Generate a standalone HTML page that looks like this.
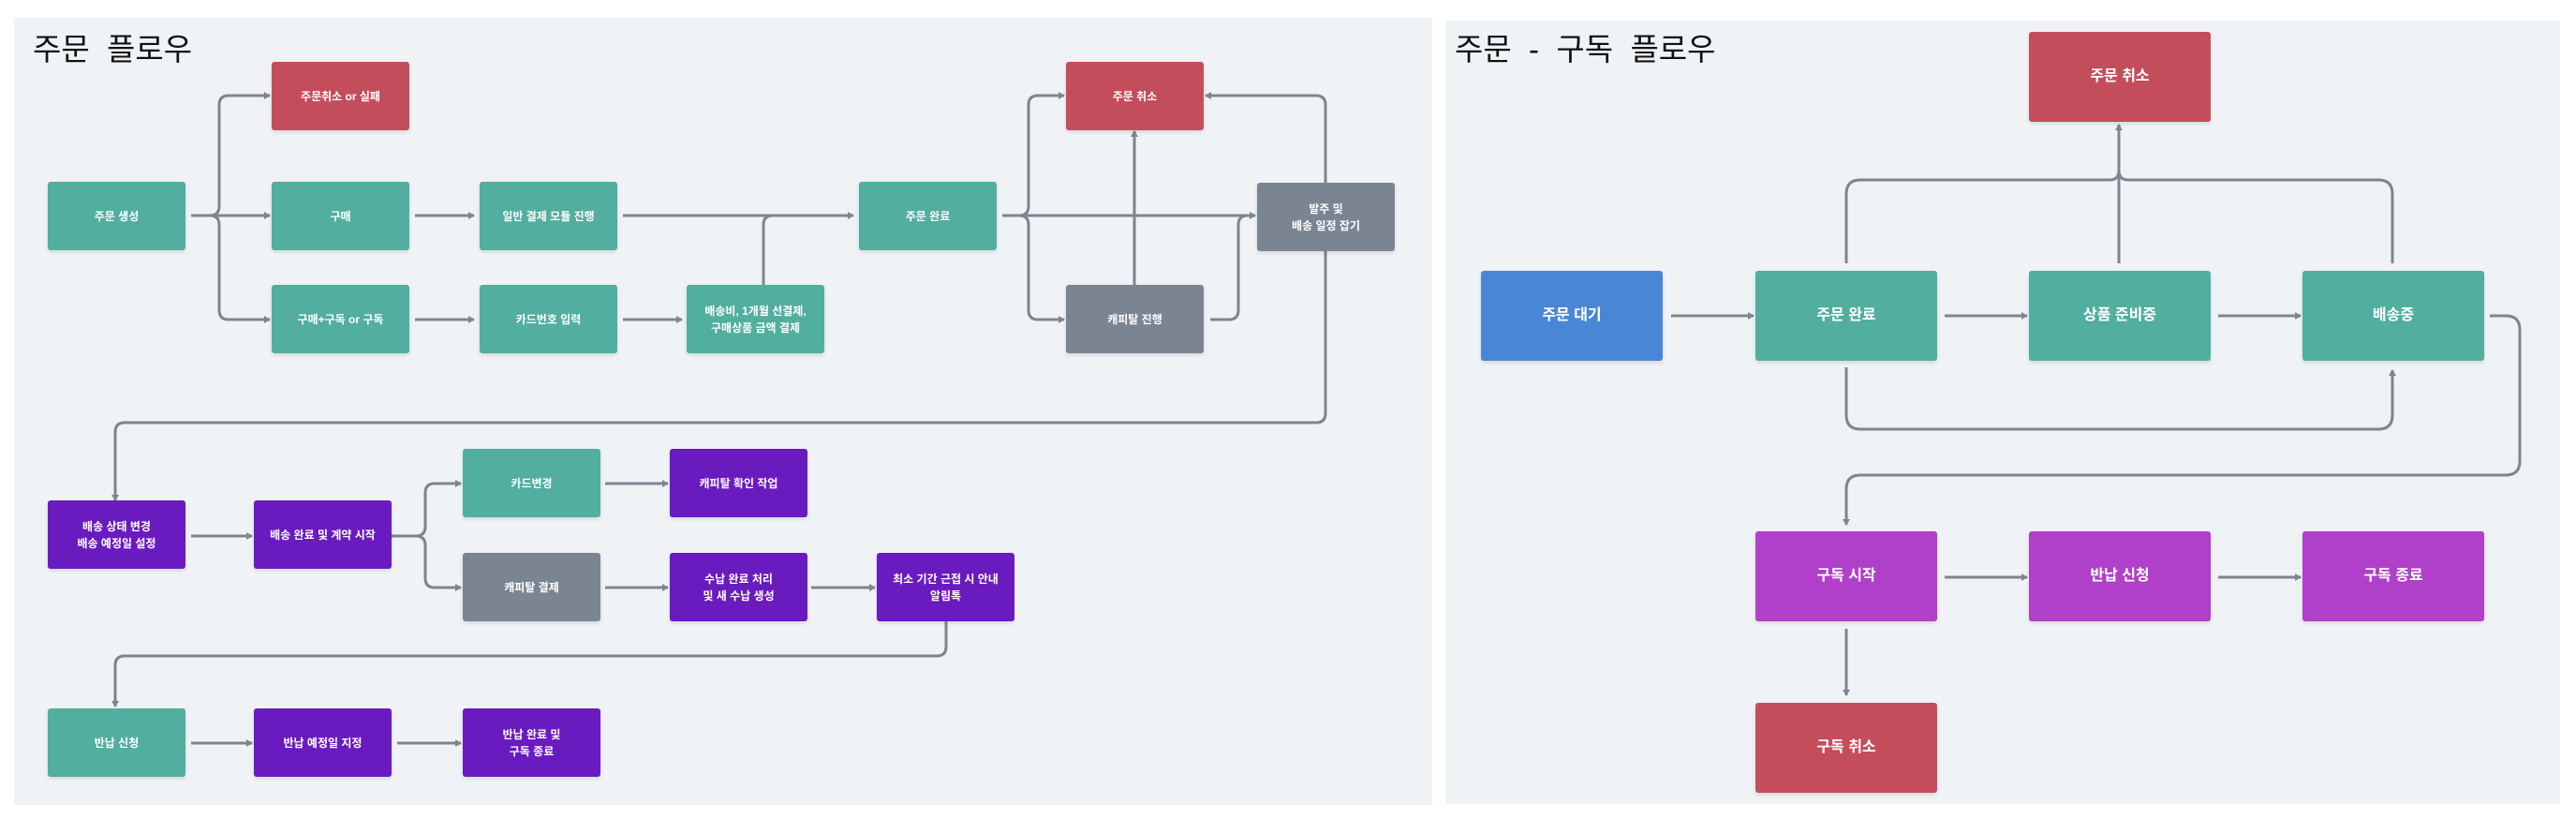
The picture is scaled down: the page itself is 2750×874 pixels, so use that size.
<!DOCTYPE html>
<html><head><meta charset="utf-8"><style>
html,body{margin:0;padding:0;background:#fff;}
body{width:2750px;height:874px;position:relative;overflow:hidden;font-family:"Liberation Sans","Noto Sans CJK KR",sans-serif;}
.panel{position:absolute;background:#eff3f6;}
.title{position:absolute;font-size:33px;color:#111;white-space:pre;font-family:"Liberation Sans","Noto Sans CJK KR",sans-serif;}
.b{position:absolute;display:flex;align-items:center;justify-content:center;text-align:center;color:#fff;font-weight:bold;border-radius:3px;box-shadow:0 2px 4px rgba(0,0,0,0.12);line-height:1.5;}
.s{font-size:12px;width:147px;height:73px;}
.l{font-size:16px;width:194px;height:96px;}
.t{background:#52ae9e}.r{background:#c44d5c}.g{background:#7b8592}.p{background:#6a1bbf}.bl{background:#4a86d6}.m{background:#b03fc9}
svg{position:absolute;left:0;top:0;}
</style></head><body>
<div class="panel" style="left:15px;top:19px;width:1514px;height:840px"></div>
<div class="panel" style="left:1543px;top:22px;width:1190px;height:836px"></div>
<div class="title" style="left:35px;top:26px">주문  플로우</div>
<div class="title" style="left:1553px;top:26px">주문  -  구독  플로우</div>

<svg width="2750" height="874" viewBox="0 0 2750 874">
<defs><marker id="a" markerWidth="8" markerHeight="8" refX="6" refY="4" orient="auto" markerUnits="userSpaceOnUse"><path d="M0,0 L7,4 L0,8 z" fill="#7d8590"/></marker></defs>
<g fill="none" stroke="#7d8590" stroke-width="3" stroke-linejoin="round">
<!-- left -->
<path d="M204,230 H288" marker-end="url(#a)"/>
<path d="M224,230 Q234,230 234,220 V112 Q234,102 244,102 H288" marker-end="url(#a)"/>
<path d="M224,230 Q234,230 234,240 V331 Q234,341 244,341 H288" marker-end="url(#a)"/>
<path d="M443,230 H506" marker-end="url(#a)"/>
<path d="M665,230 H911" marker-end="url(#a)"/>
<path d="M815,304 V240 Q815,230 825,230"/>
<path d="M443,341 H506" marker-end="url(#a)"/>
<path d="M665,341 H728" marker-end="url(#a)"/>
<path d="M1070,230 H1340" marker-end="url(#a)"/>
<path d="M1088,230 Q1098,230 1098,220 V112 Q1098,102 1108,102 H1136" marker-end="url(#a)"/>
<path d="M1088,230 Q1098,230 1098,240 V331 Q1098,341 1108,341 H1136" marker-end="url(#a)"/>
<path d="M1211,304 V140" marker-end="url(#a)"/>
<path d="M1292,341 H1312 Q1322,341 1322,331 V240 Q1322,230 1332,230"/>
<path d="M1415,195 V112 Q1415,102 1405,102 H1287" marker-end="url(#a)"/>
<path d="M1415,267 V441 Q1415,451 1405,451 H133 Q123,451 123,461 V534" marker-end="url(#a)"/>
<path d="M204,572 H269" marker-end="url(#a)"/>
<path d="M418,572 H444 Q454,572 454,562 V526 Q454,516 464,516 H492" marker-end="url(#a)"/>
<path d="M444,572 Q454,572 454,582 V617 Q454,627 464,627 H492" marker-end="url(#a)"/>
<path d="M646,516 H713" marker-end="url(#a)"/>
<path d="M646,627 H713" marker-end="url(#a)"/>
<path d="M866,627 H934" marker-end="url(#a)"/>
<path d="M1010,663 V690 Q1010,700 1000,700 H133 Q123,700 123,710 V754" marker-end="url(#a)"/>
<path d="M204,793 H269" marker-end="url(#a)"/>
<path d="M424,793 H492" marker-end="url(#a)"/>
<!-- right -->
<path d="M1784,337 H1872" marker-end="url(#a)"/>
<path d="M2076,337 H2164" marker-end="url(#a)"/>
<path d="M2368,337 H2456" marker-end="url(#a)"/>
<path d="M1971,281 V207 Q1971,192 1986,192 H2252 Q2262,192 2262,182"/>
<path d="M2554,281 V207 Q2554,192 2539,192 H2272 Q2262,192 2262,182"/>
<path d="M2262,281 V133" marker-end="url(#a)"/>
<path d="M1971,392 V443 Q1971,458 1986,458 H2539 Q2554,458 2554,443 V395" marker-end="url(#a)"/>
<path d="M2658,337 H2675 Q2690,337 2690,352 V492 Q2690,507 2675,507 H1986 Q1971,507 1971,522 V560" marker-end="url(#a)"/>
<path d="M2076,616 H2164" marker-end="url(#a)"/>
<path d="M2368,616 H2456" marker-end="url(#a)"/>
<path d="M1971,671 V742" marker-end="url(#a)"/>
</g>
</svg>

<div class="b s r" style="left:290px;top:66px">주문취소 or 실패</div>
<div class="b s t" style="left:51px;top:194px">주문 생성</div>
<div class="b s t" style="left:290px;top:194px">구매</div>
<div class="b s t" style="left:512px;top:194px">일반 결제 모듈 진행</div>
<div class="b s t" style="left:917px;top:194px">주문 완료</div>
<div class="b s r" style="left:1138px;top:66px">주문 취소</div>
<div class="b s g" style="left:1342px;top:195px">발주 및<br>배송 일정 잡기</div>
<div class="b s t" style="left:290px;top:304px">구매+구독 or 구독</div>
<div class="b s t" style="left:512px;top:304px">카드번호 입력</div>
<div class="b s t" style="left:733px;top:304px">배송비, 1개월 선결제,<br>구매상품 금액 결제</div>
<div class="b s g" style="left:1138px;top:304px">캐피탈 진행</div>

<div class="b s p" style="left:51px;top:534px">배송 상태 변경<br>배송 예정일 설정</div>
<div class="b s p" style="left:271px;top:534px">배송 완료 및 계약 시작</div>
<div class="b s t" style="left:494px;top:479px">카드변경</div>
<div class="b s p" style="left:715px;top:479px">캐피탈 확인 작업</div>
<div class="b s g" style="left:494px;top:590px">캐피탈 결제</div>
<div class="b s p" style="left:715px;top:590px">수납 완료 처리<br>및 새 수납 생성</div>
<div class="b s p" style="left:936px;top:590px">최소 기간 근접 시 안내<br>알림톡</div>
<div class="b s t" style="left:51px;top:756px">반납 신청</div>
<div class="b s p" style="left:271px;top:756px">반납 예정일 지정</div>
<div class="b s p" style="left:494px;top:756px">반납 완료 및<br>구독 종료</div>

<div class="b l r" style="left:2166px;top:34px">주문 취소</div>
<div class="b l bl" style="left:1581px;top:289px">주문 대기</div>
<div class="b l t" style="left:1874px;top:289px">주문 완료</div>
<div class="b l t" style="left:2166px;top:289px">상품 준비중</div>
<div class="b l t" style="left:2458px;top:289px">배송중</div>
<div class="b l m" style="left:1874px;top:567px">구독 시작</div>
<div class="b l m" style="left:2166px;top:567px">반납 신청</div>
<div class="b l m" style="left:2458px;top:567px">구독 종료</div>
<div class="b l r" style="left:1874px;top:750px">구독 취소</div>
</body></html>
